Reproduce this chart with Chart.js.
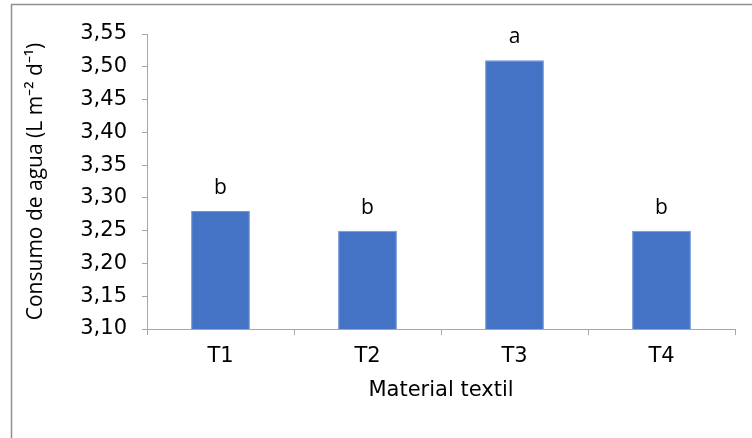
<!DOCTYPE html>
<html>
<head>
<meta charset="utf-8">
<script src="https://cdn.jsdelivr.net/npm/chart.js@4.4.1/dist/chart.umd.min.js"></script>
<style>
html,body{margin:0;padding:0;background:#fff;}
#wrap{position:relative;width:752px;height:438px;}
</style>
</head>
<body>
<div id="wrap"><canvas id="c" width="752" height="438"></canvas></div>
<script>
const categories = ["T1", "T2", "T3", "T4"];
const consumo = [3.28, 3.25, 3.51, 3.25];
const letras = ["b", "b", "a", "b"];
const yTicks = [3.10, 3.15, 3.20, 3.25, 3.30, 3.35, 3.40, 3.45, 3.50, 3.55];

const frame = {
  id: 'frame',
  beforeDraw(chart) {
    const ctx = chart.ctx;
    ctx.save();
    ctx.fillStyle = '#fff';
    ctx.fillRect(0, 0, chart.width, chart.height);
    ctx.strokeStyle = '#8f8f8f';
    ctx.lineWidth = 1.5;
    ctx.beginPath();
    ctx.moveTo(11.5, 438);
    ctx.lineTo(11.5, 4.5);
    ctx.lineTo(752, 4.5);
    ctx.stroke();
    ctx.restore();
  }
};

const letterPlugin = {
  id: 'letters',
  afterDatasetsDraw(chart) {
    const ctx = chart.ctx;
    const meta = chart.getDatasetMeta(0);
    ctx.save();
    ctx.fillStyle = '#000';
    ctx.font = '21px "Open Sans", sans-serif';
    ctx.textAlign = 'center';
    ctx.textBaseline = 'middle';
    meta.data.forEach((bar, i) => {
      ctx.fillText(letras[i], bar.x, bar.y - 23);
    });
    ctx.restore();
  }
};

new Chart(document.getElementById('c'), {
  type: 'bar',
  data: {
    labels: categories,
    datasets: [{
      data: consumo,
      backgroundColor: '#4472C4',
      borderColor: '#6f93d6',
      borderWidth: 1,
      categoryPercentage: 1,
      barPercentage: 0.4
    }]
  },
  options: {
    responsive: false,
    animation: false,
    devicePixelRatio: 1,
    layout: { padding: { left: 12, right: 17, top: 34, bottom: 31 } },
    plugins: { legend: { display: false }, tooltip: { enabled: false } },
    scales: {
      x: {
        afterFit(scale) { scale.height = 78; },
        grid: { drawOnChartArea: false, drawTicks: true, tickLength: 6, color: '#a6a6a6', offset: true },
        border: { display: true, color: '#a6a6a6', width: 1 },
        ticks: { color: '#000', font: { size: 21, family: '"DejaVu Sans", sans-serif' }, padding: 9 },
        title: { display: true, text: 'Material textil', color: '#000', font: { size: 21, family: '"DejaVu Sans", sans-serif' }, padding: { top: 4 } }
      },
      y: {
        min: 3.10,
        max: 3.55,
        afterFit(scale) { scale.width = 135; },
        afterBuildTicks(scale) { scale.ticks = yTicks.map(v => ({ value: v })); },
        grid: { drawOnChartArea: false, drawTicks: true, tickLength: 5, color: '#a6a6a6' },
        border: { display: true, color: '#a6a6a6', width: 1 },
        ticks: {
          color: '#000',
          padding: 15,
          font: { size: 21, family: '"DejaVu Sans", sans-serif' },
          callback: (v) => Number(v).toFixed(2).replace('.', ',')
        },
        title: { display: true, text: 'Consumo de agua (L m\u207B\u00B2 d\u207B\u00B9)', color: '#000', font: { size: 21, family: '"Open Sans", sans-serif' }, padding: { top: 11, bottom: 4 } }
      }
    }
  },
  plugins: [frame, letterPlugin]
});
</script>
</body>
</html>
